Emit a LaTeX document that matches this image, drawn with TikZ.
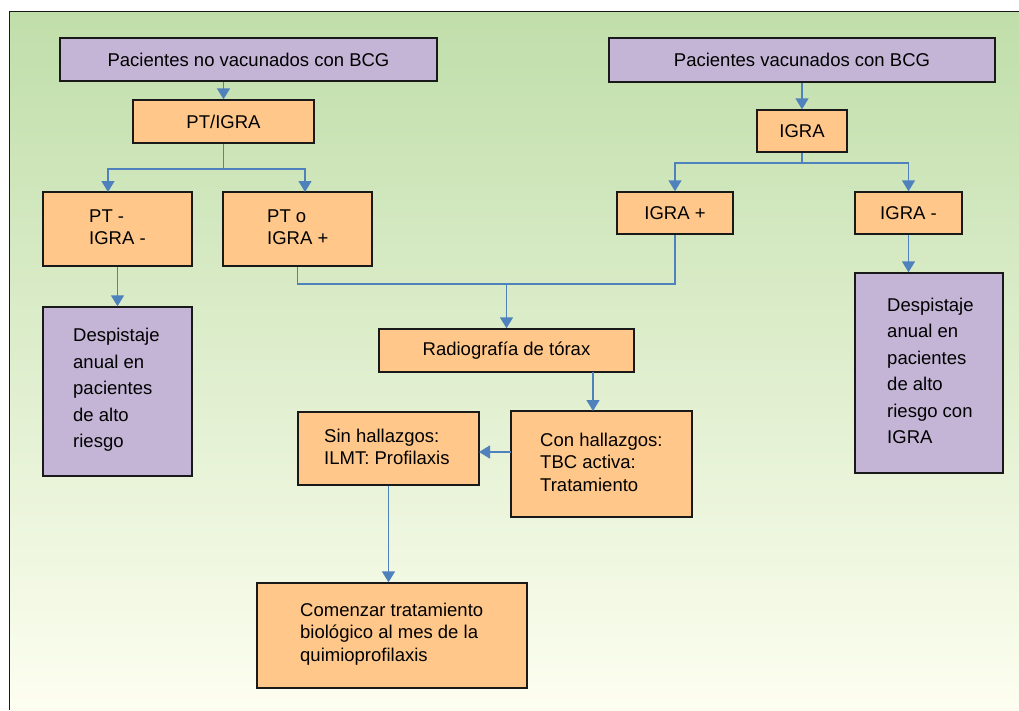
\documentclass[tikz,border=0pt]{standalone}
\usepackage{fontspec}
\setmainfont{Liberation Sans}
\usetikzlibrary{arrows.meta}
\definecolor{bgtop}{RGB}{192,222,170}
\definecolor{bgbot}{RGB}{253,254,240}
\definecolor{orangebox}{RGB}{255,200,138}
\definecolor{purplebox}{RGB}{196,181,214}
\definecolor{arrowblue}{RGB}{79,129,189}
\definecolor{edge}{RGB}{25,25,25}
\tikzset{
  box/.style={draw=edge, line width=1.4pt, inner sep=0pt},
  obox/.style={box, fill=orangebox},
  pbox/.style={box, fill=purplebox},
  txt/.style={inner sep=0pt, align=left, anchor=west, font=\fontsize{18.5}{22.5}\selectfont},
  ctxt/.style={inner sep=0pt, align=center, font=\fontsize{18.5}{22.5}\selectfont},
  tallspace/.style={font=\fontsize{18.5}{26.5}\selectfont},
  link/.style={draw=arrowblue, line width=1.4pt},
  arr/.style={link, -{Triangle[width=13pt,length=11pt]}},
}
\begin{document}
\begin{tikzpicture}[x=1pt,y=-1pt]
\useasboundingbox (0,0) rectangle (1019,710);
\fill[white] (0,0) rectangle (1019,710);
\shade[top color=bgtop, bottom color=bgbot] (9,11) rectangle (1019,710);
\draw[line width=1.5pt, edge] (9.5,710) -- (9.5,11.5) -- (1019,11.5);

% boxes
\node[pbox, minimum width=377pt, minimum height=43pt] (np) at (248.5,59.5) {};
\node[obox, minimum width=181pt, minimum height=43pt] (pt) at (223.5,121.5) {};
\node[pbox, minimum width=386pt, minimum height=44pt] (pv) at (802,60) {};
\node[obox, minimum width=90pt, minimum height=42pt] (ig) at (802,131) {};
\node[obox, minimum width=149pt, minimum height=74pt] (ptneg) at (117.5,229) {};
\node[obox, minimum width=149pt, minimum height=74pt] (ptpos) at (297.5,229) {};
\node[obox, minimum width=116pt, minimum height=42pt] (igp) at (675,213) {};
\node[obox, minimum width=107pt, minimum height=42pt] (ign) at (908.5,213) {};
\node[pbox, minimum width=149pt, minimum height=169pt] (dl) at (117.5,391.5) {};
\node[pbox, minimum width=148pt, minimum height=200pt] (dr) at (929,373) {};
\node[obox, minimum width=255pt, minimum height=43pt] (rx) at (506.5,350.5) {};
\node[obox, minimum width=181pt, minimum height=106pt] (con) at (601.5,464) {};
\node[obox, minimum width=181pt, minimum height=73pt] (sin) at (388.5,448.5) {};
\node[obox, minimum width=270pt, minimum height=105pt] (com) at (392,635.5) {};

% texts
\node[ctxt] (tnp) at (np) {Pacientes no vacunados con BCG};
\node[ctxt] (tpt) at (pt) {PT/IGRA};
\node[ctxt] (tpv) at (pv) {Pacientes vacunados con BCG};
\node[ctxt] (tig) at (ig) {IGRA};
\node[ctxt] (tigp) at (igp) {IGRA +};
\node[ctxt] (tign) at (ign) {IGRA -};
\node[ctxt] (trx) at (rx) {Radiografía de tórax};
\node[txt] (tptneg) at (89,227) {PT -\\IGRA -};
\node[txt] (tptpos) at (267,227) {PT o\\IGRA +};
\node[txt, tallspace] (tdl) at (73,390) {Despistaje\\anual en\\pacientes\\de alto\\riesgo};
\node[txt, tallspace] (tdr) at (887,371) {Despistaje\\anual en\\pacientes\\de alto\\riesgo con\\IGRA};
\node[txt] (tcon) at (540,462) {Con hallazgos:\\TBC activa:\\Tratamiento};
\node[txt] (tsin) at (324,447) {Sin hallazgos:\\ILMT: Profilaxis};
\node[txt] (tcom) at (300,634) {Comenzar tratamiento\\biológico al mes de la\\quimioprofilaxis};

% connector points
\coordinate (b1) at (223.5,169);
\coordinate (b2) at (802,163);
\coordinate (j) at (506.5,284);
\coordinate (ptnegin) at (108,192);
\coordinate (ptposin) at (305,192);
\coordinate (rxout) at (593,372);
\coordinate (conin) at (593,411);
\coordinate (conout) at (511,452);
\coordinate (sinin) at (479,452);

% connectors
\draw[arr] (pt.north |- np.south) -- (pt.north);
\draw[link] (pt.south) -- (b1);
\draw[arr] (b1) -| (ptnegin);
\draw[arr] (b1) -| (ptposin);
\draw[arr] (ptneg.south) -- (dl.north);
\draw[arr] (pv.south) -- (ig.north);
\draw[link] (ig.south) -- (b2);
\draw[arr] (b2) -| (igp.north);
\draw[arr] (b2) -| (ign.north);
\draw[arr] (ign.south) -- (ign.south |- dr.north);
\draw[link] (ptpos.south) |- (j);
\draw[link] (igp.south) |- (j);
\draw[arr] (j) -- (rx.north);
\draw[arr] (rxout) -- (conin);
\draw[arr] (conout) -- (sinin);
\draw[arr] (sin.south) -- (sin.south |- com.north);
\end{tikzpicture}
\end{document}
